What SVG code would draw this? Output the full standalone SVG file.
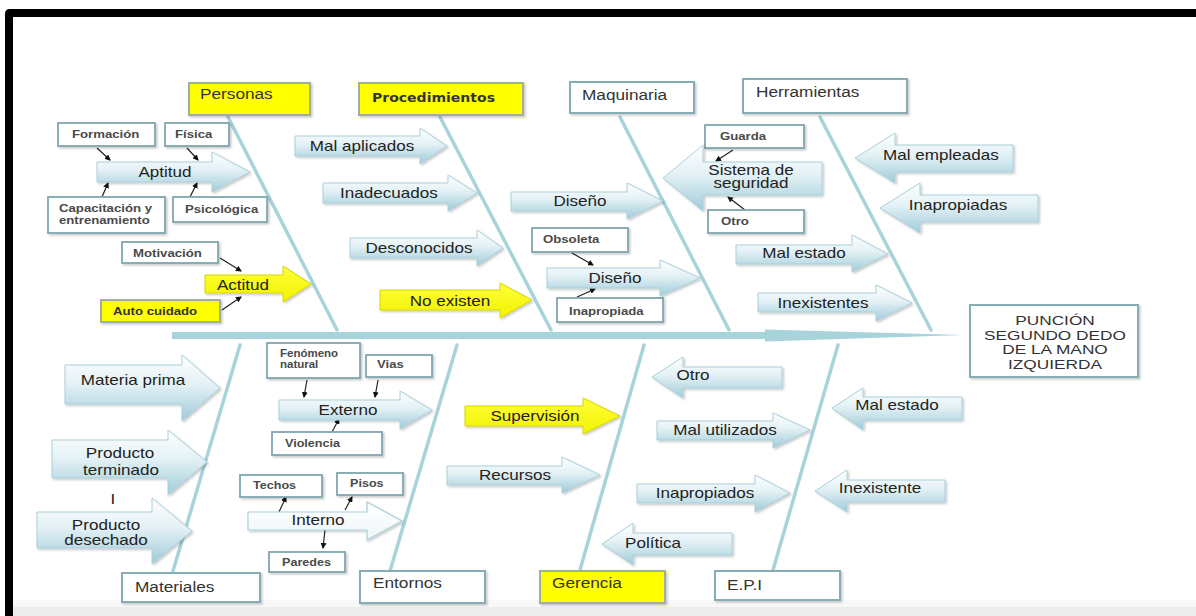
<svg xmlns="http://www.w3.org/2000/svg" width="1196" height="616" viewBox="0 0 1196 616">
<defs>
<linearGradient id="bg" x1="0" y1="0" x2="0" y2="1">
<stop offset="0" stop-color="#ffffff"/>
<stop offset="0.45" stop-color="#e3f1f5"/>
<stop offset="1" stop-color="#9fcbd9"/>
</linearGradient>
<linearGradient id="yg" x1="0" y1="0" x2="0" y2="1">
<stop offset="0" stop-color="#ffff3a"/>
<stop offset="1" stop-color="#f2f200"/>
</linearGradient>
<linearGradient id="wg" x1="0" y1="0" x2="0" y2="1">
<stop offset="0" stop-color="#ffffff"/>
<stop offset="1" stop-color="#eef6f8"/>
</linearGradient>
<filter id="sh" x="-10%" y="-20%" width="130%" height="150%">
<feDropShadow dx="1.5" dy="1.5" stdDeviation="1" flood-color="#000" flood-opacity="0.22"/>
</filter>
<marker id="ah" markerWidth="6" markerHeight="6" refX="5" refY="3" orient="auto" markerUnits="userSpaceOnUse">
<path d="M0,0 L6,3 L0,6 Z" fill="#111"/>
</marker>
<style>
text{font-family:'Liberation Sans',Arial,sans-serif}
.arr{fill:url(#bg);stroke:#a9cfdb;stroke-width:1;filter:url(#sh)}
.yarr{fill:url(#yg);stroke:#d6d600;stroke-width:1;filter:url(#sh)}
.warr{fill:url(#wg);stroke:#a9cfdb;stroke-width:1.2;filter:url(#sh)}
.box{fill:#fff;stroke:#86adb4;stroke-width:2;filter:url(#sh)}
.ybox{fill:#ffff00;stroke:#9fb0a0;stroke-width:2;filter:url(#sh)}
.sbox{fill:#fff;stroke:#7fa7ae;stroke-width:1.8;filter:url(#sh)}
.al{font-size:14px;fill:#222;text-anchor:middle}
.cl{font-size:14px;fill:#333}
.sl{font-size:11px;font-weight:bold;fill:#4a4a4a}
.el{font-size:13.5px;fill:#333;text-anchor:middle}
.bone{stroke:#a8d3db;stroke-width:3.5;fill:none;stroke-linecap:round}
.con{stroke:#222;stroke-width:1.2;fill:none;marker-end:url(#ah)}
</style>
</defs>
<rect x="0" y="0" width="1196" height="616" fill="#fff"/>
<rect x="13" y="600" width="1183" height="7" fill="#f8f8f8"/>
<rect x="13" y="607" width="1183" height="9" fill="#ececec"/>
<path d="M5 616 V14 Q5 9 10 9 H1196 V17 H13 V616 Z" fill="#000"/>

<g id="connectors">
<path d="M172 332 H765 V329.5 L963 335 L765 341.5 V339 H172 Z" fill="#a8d3db"/>
<line class="bone" x1="228" y1="117" x2="337" y2="330"/>
<line class="bone" x1="440" y1="117" x2="551" y2="330"/>
<line class="bone" x1="620" y1="117" x2="729" y2="330"/>
<line class="bone" x1="820" y1="117" x2="931" y2="330"/>
<line class="bone" x1="240" y1="345" x2="173" y2="571"/>
<line class="bone" x1="457" y1="345" x2="390" y2="571"/>
<line class="bone" x1="644" y1="345" x2="580" y2="570"/>
<line class="bone" x1="838" y1="345" x2="773" y2="570"/>
<line class="con" x1="97" y1="148" x2="110" y2="160"/>
<line class="con" x1="187" y1="148" x2="198" y2="160"/>
<line class="con" x1="102" y1="197" x2="108" y2="183"/>
<line class="con" x1="190" y1="197" x2="197" y2="183"/>
<line class="con" x1="220" y1="258" x2="241" y2="271"/>
<line class="con" x1="222" y1="310" x2="241" y2="297"/>
<line class="con" x1="733" y1="150" x2="716" y2="161"/>
<line class="con" x1="745" y1="210" x2="728" y2="197"/>
<line class="con" x1="572" y1="253" x2="593" y2="265"/>
<line class="con" x1="577" y1="297" x2="595" y2="289"/>
<line class="con" x1="307" y1="380" x2="304" y2="397"/>
<line class="con" x1="378" y1="380" x2="375" y2="397"/>
<line class="con" x1="332" y1="432" x2="339" y2="419"/>
<line class="con" x1="279" y1="512" x2="286" y2="497"/>
<line class="con" x1="345" y1="510" x2="352" y2="497"/>
<line class="con" x1="325" y1="530" x2="323" y2="548"/>
</g>

<g id="personas"><rect class="ybox" x="189" y="83" width="121" height="32"/><text class="cl" transform="translate(200 99) scale(1.23 1)">Personas</text></g>
<g id="procedimientos"><rect class="ybox" x="359" y="83" width="164" height="32"/><text x="372" y="102" font-size="12" font-weight="bold" fill="#333" textLength="123" lengthAdjust="spacingAndGlyphs" style="font-family:'DejaVu Sans',sans-serif">Procedimientos</text></g>
<g id="maquinaria"><rect class="box" x="570" y="82" width="124" height="31"/><text class="cl" transform="translate(582 100) scale(1.23 1)">Maquinaria</text></g>
<g id="herramientas"><rect class="box" x="743" y="79" width="164" height="34"/><text class="cl" transform="translate(756 97) scale(1.23 1)">Herramientas</text></g>
<g id="materiales"><rect class="box" x="122" y="573" width="138" height="29"/><text class="cl" transform="translate(135 592) scale(1.23 1)">Materiales</text></g>
<g id="entornos"><rect class="box" x="360" y="571" width="125" height="32"/><text class="cl" transform="translate(373 588) scale(1.23 1)">Entornos</text></g>
<g id="gerencia"><rect class="ybox" x="540" y="571" width="125" height="32"/><text class="cl" transform="translate(552 588) scale(1.23 1)">Gerencia</text></g>
<g id="epi"><rect class="box" x="715" y="571" width="125" height="29"/><text class="cl" transform="translate(727 590) scale(1.23 1)">E.P.I</text></g>
<g id="efecto"><rect class="box" x="970" y="305" width="168" height="72"/>
<text class="el" transform="translate(1055 325) scale(1.28 1)">PUNCIÓN</text>
<text class="el" transform="translate(1055 339.5) scale(1.28 1)">SEGUNDO DEDO</text>
<text class="el" transform="translate(1055 354) scale(1.28 1)">DE LA MANO</text>
<text class="el" transform="translate(1055 368.5) scale(1.28 1)">IZQUIERDA</text></g>

<g id="formacion"><rect class="sbox" x="58" y="123" width="97" height="23"/><text class="sl" transform="translate(72 138) scale(1.2 1)">Formación</text></g>
<g id="fisica"><rect class="sbox" x="165" y="123" width="64" height="23"/><text class="sl" transform="translate(175 138) scale(1.2 1)">Física</text></g>
<g id="capacitacion"><rect class="sbox" x="48" y="197" width="117" height="36"/><text class="sl" transform="translate(59 212) scale(1.2 1)">Capacitación y</text><text class="sl" transform="translate(59 224) scale(1.2 1)">entrenamiento</text></g>
<g id="psicologica"><rect class="sbox" x="173" y="197" width="94" height="25"/><text class="sl" transform="translate(185 213) scale(1.2 1)">Psicológica</text></g>
<g id="motivacion"><rect class="sbox" x="122" y="242" width="96" height="21"/><text class="sl" transform="translate(133 257) scale(1.2 1)">Motivación</text></g>
<g id="autocuidado"><rect class="ybox" x="101" y="300" width="119" height="22"/><text class="sl" style="fill:#333" transform="translate(113 315) scale(1.2 1)">Auto cuidado</text></g>
<g id="guarda"><rect class="sbox" x="705" y="125" width="99" height="23"/><text class="sl" transform="translate(720 140) scale(1.2 1)">Guarda</text></g>
<g id="otro1"><rect class="sbox" x="708" y="210" width="96" height="23"/><text class="sl" transform="translate(721 225) scale(1.2 1)">Otro</text></g>
<g id="obsoleta"><rect class="sbox" x="532" y="228" width="96" height="24"/><text class="sl" transform="translate(543 243) scale(1.2 1)">Obsoleta</text></g>
<g id="inapropiada"><rect class="sbox" x="557" y="298" width="106" height="24"/><text class="sl" transform="translate(569 315) scale(1.2 1)">Inapropiada</text></g>
<g id="fenomeno"><rect class="sbox" x="267" y="343" width="93" height="35"/><text class="sl" style="font-size:10px" transform="translate(280 357) scale(1.15 1)">Fenómeno</text><text class="sl" style="font-size:10px" transform="translate(280 368) scale(1.15 1)">natural</text></g>
<g id="vias"><rect class="sbox" x="366" y="355" width="66" height="22"/><text class="sl" style="font-size:10.5px" transform="translate(377 368) scale(1.25 1)">Vias</text></g>
<g id="violencia"><rect class="sbox" x="272" y="432" width="110" height="23"/><text class="sl" style="font-size:10.5px" transform="translate(285 447) scale(1.2 1)">Violencia</text></g>
<g id="techos"><rect class="sbox" x="240" y="475" width="82" height="22"/><text class="sl" style="font-size:10.5px" transform="translate(253 489) scale(1.2 1)">Techos</text></g>
<g id="pisos"><rect class="sbox" x="337" y="473" width="66" height="22"/><text class="sl" style="font-size:10.5px" transform="translate(350 487) scale(1.2 1)">Pisos</text></g>
<g id="paredes"><rect class="sbox" x="269" y="552" width="76" height="20"/><text class="sl" style="font-size:10.5px" transform="translate(282 566) scale(1.2 1)">Paredes</text></g>

<g id="aptitud"><path class="arr" d="M97 162 H212 V152 L250 172 L212 192 V182 H97 Z"/><text class="al" transform="translate(165 177) scale(1.22 1)">Aptitud</text></g>
<g id="actitud"><path class="yarr" d="M205 275 H283 V266 L311 284 L283 302 V293 H205 Z"/><text class="al" transform="translate(243 290) scale(1.22 1)">Actitud</text></g>
<g id="mal-aplicados"><path class="arr" d="M295 136 H420 V128 L447 146 L420 164 V156 H295 Z"/><text class="al" transform="translate(362 151) scale(1.22 1)">Mal aplicados</text></g>
<g id="inadecuados"><path class="arr" d="M323 183 H448 V175 L477 193 L448 211 V203 H323 Z"/><text class="al" transform="translate(389 198) scale(1.22 1)">Inadecuados</text></g>
<g id="desconocidos"><path class="arr" d="M350 238 H477 V230 L503 248 L477 266 V258 H350 Z"/><text class="al" transform="translate(419 253) scale(1.22 1)">Desconocidos</text></g>
<g id="no-existen"><path class="yarr" d="M380 290 H500 V283 L532 300 L500 318 V310 H380 Z"/><text class="al" transform="translate(450 306) scale(1.22 1)">No existen</text></g>
<g id="diseno1"><path class="arr" d="M511 192 H627 V183 L663 201 L627 219 V211 H511 Z"/><text class="al" transform="translate(580 206) scale(1.22 1)">Diseño</text></g>
<g id="diseno2"><path class="arr" d="M547 268 H660 V260 L700 278 L660 296 V288 H547 Z"/><text class="al" transform="translate(615 283) scale(1.22 1)">Diseño</text></g>
<g id="sistema"><path class="arr" d="M822 162 H703 V145 L663 178 L703 211 V195 H822 Z"/><text class="al" transform="translate(751 175) scale(1.22 1)">Sistema de</text><text class="al" transform="translate(751 188) scale(1.22 1)">seguridad</text></g>
<g id="mal-empleadas"><path class="arr" d="M1013 145 H895 V133 L855 158 L895 183 V172 H1013 Z"/><text class="al" transform="translate(941 160) scale(1.22 1)">Mal empleadas</text></g>
<g id="inapropiadas"><path class="arr" d="M1038 195 H920 V183 L880 208 L920 233 V222 H1038 Z"/><text class="al" transform="translate(958 210) scale(1.22 1)">Inapropiadas</text></g>
<g id="mal-estado1"><path class="arr" d="M736 245 H852 V235 L888 254 L852 272 V264 H736 Z"/><text class="al" transform="translate(804 258) scale(1.22 1)">Mal estado</text></g>
<g id="inexistentes"><path class="arr" d="M758 293 H876 V285 L912 303 L876 321 V312 H758 Z"/><text class="al" transform="translate(823 308) scale(1.22 1)">Inexistentes</text></g>
<g id="materia-prima"><path class="arr" d="M65 365 H182 V355 L220 388 L182 421 V404 H65 Z"/><text class="al" transform="translate(133 385) scale(1.22 1)">Materia prima</text></g>
<g id="producto-terminado"><path class="arr" d="M52 440 H168 V430 L207 462 L168 495 V478 H52 Z"/><text class="al" transform="translate(120 458) scale(1.22 1)">Producto</text><text class="al" transform="translate(121 475) scale(1.22 1)">terminado</text></g>
<g id="separador"><text class="al" transform="translate(113 504) scale(1.22 1)">I</text></g>
<g id="producto-desechado"><path class="arr" d="M37 512 H152 V498 L192 531 L152 564 V548 H37 Z"/><text class="al" transform="translate(106 530) scale(1.22 1)">Producto</text><text class="al" transform="translate(106 545) scale(1.22 1)">desechado</text></g>
<g id="externo"><path class="arr" d="M279 400 H400 V391 L432 410 L400 429 V420 H279 Z"/><text class="al" transform="translate(348 415) scale(1.22 1)">Externo</text></g>
<g id="interno"><path class="warr" d="M248 512 H367 V502 L402 521 L367 540 V530 H248 Z"/><text class="al" transform="translate(318 525) scale(1.22 1)">Interno</text></g>
<g id="supervision"><path class="yarr" d="M465 406 H583 V398 L620 416 L583 434 V426 H465 Z"/><text class="al" transform="translate(535 421) scale(1.22 1)">Supervisión</text></g>
<g id="recursos"><path class="arr" d="M447 466 H562 V457 L600 475 L562 493 V485 H447 Z"/><text class="al" transform="translate(515 480) scale(1.22 1)">Recursos</text></g>
<g id="otro2"><path class="arr" d="M782 367 H683 V357 L652 377 L683 398 V388 H782 Z"/><text class="al" transform="translate(693 380) scale(1.22 1)">Otro</text></g>
<g id="mal-utilizados"><path class="arr" d="M657 421 H773 V413 L810 430 L773 448 V440 H657 Z"/><text class="al" transform="translate(725 435) scale(1.22 1)">Mal utilizados</text></g>
<g id="inapropiados"><path class="arr" d="M637 484 H755 V475 L790 493 L755 512 V503 H637 Z"/><text class="al" transform="translate(705 498) scale(1.22 1)">Inapropiados</text></g>
<g id="politica"><path class="arr" d="M732 533 H633 V523 L602 544 L633 565 V555 H732 Z"/><text class="al" transform="translate(653 548) scale(1.22 1)">Política</text></g>
<g id="mal-estado2"><path class="arr" d="M962 397 H863 V388 L832 408 L863 430 V420 H962 Z"/><text class="al" transform="translate(897 410) scale(1.22 1)">Mal estado</text></g>
<g id="inexistente"><path class="arr" d="M945 480 H847 V470 L815 491 L847 512 V502 H945 Z"/><text class="al" transform="translate(880 493) scale(1.22 1)">Inexistente</text></g>
</svg>
